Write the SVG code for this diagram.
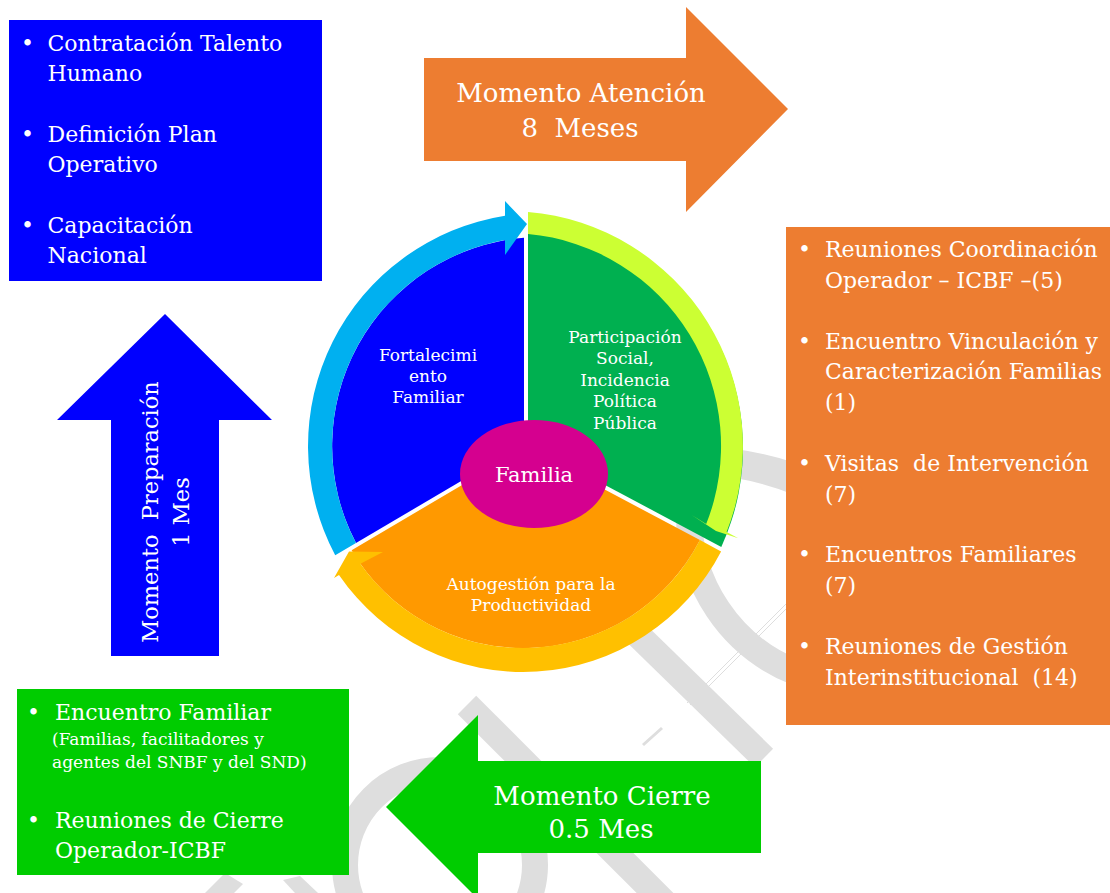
<svg xmlns="http://www.w3.org/2000/svg" width="1110" height="893" viewBox="0 0 1110 893">
<style>
.t{font-family:"DejaVu Serif","Liberation Serif",serif;fill:#ffffff}
.b22{font-size:22px}
.b225{font-size:22px}
.s17{font-size:17px}
.a26{font-size:26px}
.pie{font-size:17px;text-anchor:middle}
.mid{text-anchor:middle}
.pre{white-space:pre}
.wm{fill:none;stroke:#dedede}
.wmf{fill:#dedede}
</style>
<rect width="1110" height="893" fill="#ffffff"/>

<g id="watermark">
  <path class="wmf" d="M735,449 Q765,453 792,462 L792,494 Q765,483 735,478 Z"/>
  <path class="wm" stroke-width="26" d="M689,514 A169,169 0 0,0 795,672"/>
  <line class="wm" stroke-width="26" x1="600" y1="598" x2="764" y2="758"/>
  <line class="wm" stroke-width="26" x1="467" y1="705" x2="690" y2="928"/>
  <line class="wm" stroke-width="1" x1="687" y1="703" x2="787" y2="603"/>
  <line class="wm" stroke-width="1" x1="690" y1="705" x2="790" y2="605"/>
  <line class="wm" stroke-width="3" x1="643" y1="745" x2="662" y2="728"/>
  <circle class="wm" stroke-width="26" cx="440" cy="865" r="95"/>
  <polygon class="wmf" points="205,893 225,873 243,884 234,893"/>
  <polygon class="wmf" points="283,880 300,876 318,893 295,893"/>
</g>

<g id="node-preparacion-box">
  <rect x="9" y="20" width="313" height="261" fill="#0000ff"/>
  <text class="t b22" x="21" y="51">•</text>
  <text class="t b22" x="47.5" y="51">Contratación Talento</text>
  <text class="t b22" x="47.5" y="81">Humano</text>
  <text class="t b22" x="21" y="142">•</text>
  <text class="t b22" x="47.5" y="142">Definición Plan</text>
  <text class="t b22" x="47.5" y="172">Operativo</text>
  <text class="t b22" x="21" y="233">•</text>
  <text class="t b22" x="47.5" y="233">Capacitación</text>
  <text class="t b22" x="47.5" y="263">Nacional</text>
</g>

<g id="node-preparacion-arrow">
  <polygon points="165,314 272,420 219,420 219,656 111,656 111,420 57,420" fill="#0000ff"/>
  <text class="t mid pre" font-size="22.5" transform="translate(158,512) rotate(-90)">Momento  Preparación</text>
  <text class="t mid" font-size="22.5" transform="translate(189,512) rotate(-90)">1 Mes</text>
</g>

<g id="node-atencion-arrow">
  <polygon points="424,58 686,58 686,7 788,109 686,212 686,161 424,161" fill="#ed7d31"/>
  <text class="t a26 mid" x="581" y="102">Momento Atención</text>
  <text class="t a26 mid pre" x="580" y="137">8  Meses</text>
</g>

<g id="node-atencion-box">
  <rect x="786" y="227" width="324" height="498" fill="#ed7d31"/>
  <text class="t b225" x="798" y="257">•</text>
  <text class="t b225" x="825" y="257">Reuniones Coordinación</text>
  <text class="t b225" x="825" y="288">Operador – ICBF –(5)</text>
  <text class="t b225" x="798" y="349">•</text>
  <text class="t b225" x="825" y="349">Encuentro Vinculación y</text>
  <text class="t b225" x="825" y="379">Caracterización Familias</text>
  <text class="t b225" x="825" y="410">(1)</text>
  <text class="t b225" x="798" y="471">•</text>
  <text class="t b225 pre" x="825" y="471">Visitas  de Intervención</text>
  <text class="t b225" x="825" y="502">(7)</text>
  <text class="t b225" x="798" y="562">•</text>
  <text class="t b225" x="825" y="562">Encuentros Familiares</text>
  <text class="t b225" x="825" y="593">(7)</text>
  <text class="t b225" x="798" y="654">•</text>
  <text class="t b225" x="825" y="654">Reuniones de Gestión</text>
  <text class="t b225 pre" x="825" y="685">Interinstitucional  (14)</text>
</g>

<g id="node-cierre-arrow">
  <polygon points="386,807 478,715 478,761 761,761 761,853 478,853 478,899" fill="#00cc00"/>
  <text class="t a26 mid" x="602" y="805">Momento Cierre</text>
  <text class="t a26 mid" x="601" y="838">0.5 Mes</text>
</g>

<g id="node-cierre-box">
  <rect x="17" y="689" width="332" height="186" fill="#00cc00"/>
  <text class="t b22" x="27" y="720">•</text>
  <text class="t b22" x="55" y="720">Encuentro Familiar</text>
  <text class="t s17" x="52" y="745">(Familias, facilitadores y</text>
  <text class="t s17" x="52" y="768">agentes del SNBF y del SND)</text>
  <text class="t b22" x="27" y="828">•</text>
  <text class="t b22" x="55" y="828">Reuniones de Cierre</text>
  <text class="t b22" x="55" y="858">Operador-ICBF</text>
</g>

<g id="node-fortalecimiento">
  <path d="M524,444 L524,237.7 A209,209 0 0,0 356,543 Z" fill="#0000ff"/>
</g>
<g id="node-participacion">
  <path d="M528,444 L528,213 A236,236 0 0,1 721.3,546.9 Z" fill="#00b050"/>
</g>
<g id="node-autogestion">
  <path d="M525.7,447.5 L351.6,550.2 A199,199 0 0,0 699.9,540.1 Z" fill="#ff9900"/>
</g>

<g id="connectors">
  <path d="M335.2,555.2 A233,233 0 0,1 505,215.8 L505,201 L527,224 L505,255 L505,240.1 A209,209 0 0,0 356,543 Z" fill="#00b0f0"/>
  <path d="M528,211.9 A235,235 0 0,1 726.6,532.1 L738.3,538.3 L716,531 L691.7,515 L706.2,524.1 A213,213 0 0,0 528,233.9 Z" fill="#ccff33"/>
  <path d="M721.1,551.4 A223,223 0 0,1 339,574.9 L334,578 L349,551.5 L383,552 L360.4,563.7 A199,199 0 0,0 699.9,540.1 Z" fill="#ffc000"/>
</g>

<g id="node-familia">
  <ellipse cx="534" cy="474" rx="74" ry="54" fill="#d5008f"/>
  <text class="t mid" font-size="21" x="534" y="482">Familia</text>
</g>

<g id="labels-cycle">
  <text class="t pie" x="428" y="361">Fortalecimi</text>
  <text class="t pie" x="428" y="382">ento</text>
  <text class="t pie" x="428" y="403">Familiar</text>
  <text class="t pie" x="625" y="343">Participación</text>
  <text class="t pie" x="625" y="364">Social,</text>
  <text class="t pie" x="625" y="386">Incidencia</text>
  <text class="t pie" x="625" y="407">Política</text>
  <text class="t pie" x="625" y="429">Pública</text>
  <text class="t pie" x="531" y="590">Autogestión para la</text>
  <text class="t pie" x="531" y="611">Productividad</text>
</g>
</svg>
